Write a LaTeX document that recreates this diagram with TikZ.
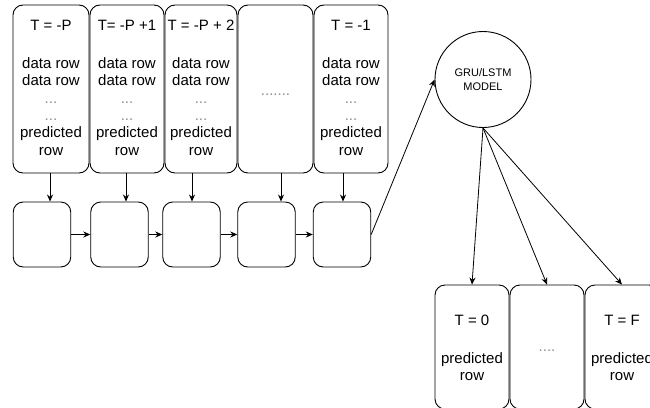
\documentclass[tikz,border=0pt]{standalone}
\usepackage{fontspec}
\setmainfont{Liberation Sans}
\usetikzlibrary{arrows.meta}
\newcommand{\lightdots}[1]{\textcolor{black!45}{#1}}
\begin{document}
\begin{tikzpicture}[x=1pt,y=-1pt,
  box/.style={draw, rounded corners=10pt, line width=0.9pt, inner sep=0pt},
  tall/.style={box, minimum height=168pt},
  small/.style={box, minimum width=57.5pt, minimum height=65pt},
  outbox/.style={box, minimum width=74pt, minimum height=124pt},
  txt/.style={align=center, inner sep=0pt, anchor=north, font=\fontsize{15}{17.4}\selectfont},
  dots/.style={inner sep=0pt, text=black!45, font=\fontsize{15}{17.4}\selectfont},
  arr/.style={-{Stealth[length=7pt,width=6pt]}, line width=0.8pt},
  ]
\useasboundingbox (0,0) rectangle (650,407);

% input windows
\node[tall, minimum width=76pt] (t1) at (51,89) {};
\node[tall, minimum width=74pt] (t2) at (127,89) {};
\node[tall, minimum width=72pt] (t3) at (201,89) {};
\node[tall, minimum width=75pt] (t4) at (275.5,89) {};
\node[tall, minimum width=74pt] (t5) at (351,89) {};

\node[txt] (l1) at (51,20.3) {T = -P\\[20pt]data row\\data row\\\lightdots{...}\\\lightdots{...}\\predicted\\row};
\node[txt] (l2) at (127,20.3) {T= -P +1\\[20pt]data row\\data row\\\lightdots{...}\\\lightdots{...}\\predicted\\row};
\node[txt] (l3) at (201,20.3) {T = -P + 2\\[20pt]data row\\data row\\\lightdots{...}\\\lightdots{...}\\predicted\\row};
\node[dots] (l4) at (275.5,95) {.......};
\node[txt] (l5) at (351,20.3) {T = -1\\[20pt]data row\\data row\\\lightdots{...}\\\lightdots{...}\\predicted\\row};

% recurrent cells
\node[small] (b1) at (42,234.5) {};
\node[small] (b2) at (119.5,234.5) {};
\node[small] (b3) at (191.5,234.5) {};
\node[small] (b4) at (266.5,234.5) {};
\node[small] (b5) at (342,234.5) {};

% model
\node[draw, circle, minimum size=96pt, inner sep=0pt, line width=0.9pt, align=center,
      font=\fontsize{11}{13.3}\selectfont] (m) at (483,79.5) {GRU/LSTM\\MODEL};

% outputs
\node[outbox] (o1) at (472,347) {};
\node[outbox] (o2) at (547,347) {};
\node[outbox] (o3) at (622,347) {};
\node[txt] (p1) at (472,315.3) {T = 0\\[20pt]predicted\\row};
\node[dots] (p2) at (547,351) {....};
\node[txt] (p3) at (622,315.3) {T = F\\[20pt]predicted\\row};

% connectors
\draw[arr] ([xshift=-1pt]t1.south) -- ([xshift=8pt]b1.north);
\draw[arr] ([xshift=-1pt]t2.south) -- ([xshift=6.5pt]b2.north);
\draw[arr] ([xshift=-9pt]t3.south) -- ([xshift=0.5pt]b3.north);
\draw[arr] ([xshift=5.5pt]t4.south) -- ([xshift=14.5pt]b4.north);
\draw[arr] ([xshift=-8pt]t5.south) -- ([xshift=1pt]b5.north);

\draw[arr] (b1) -- (b2);
\draw[arr] (b2) -- (b3);
\draw[arr] (b3) -- (b4);
\draw[arr] (b4) -- (b5);

\draw[arr] (b5.east) -- (m.west);
\draw[arr] (m.south) -- (o1.north);
\draw[arr] (m.south) -- (o2.north);
\draw[arr] (m.south) -- (o3.north);
\end{tikzpicture}
\end{document}
